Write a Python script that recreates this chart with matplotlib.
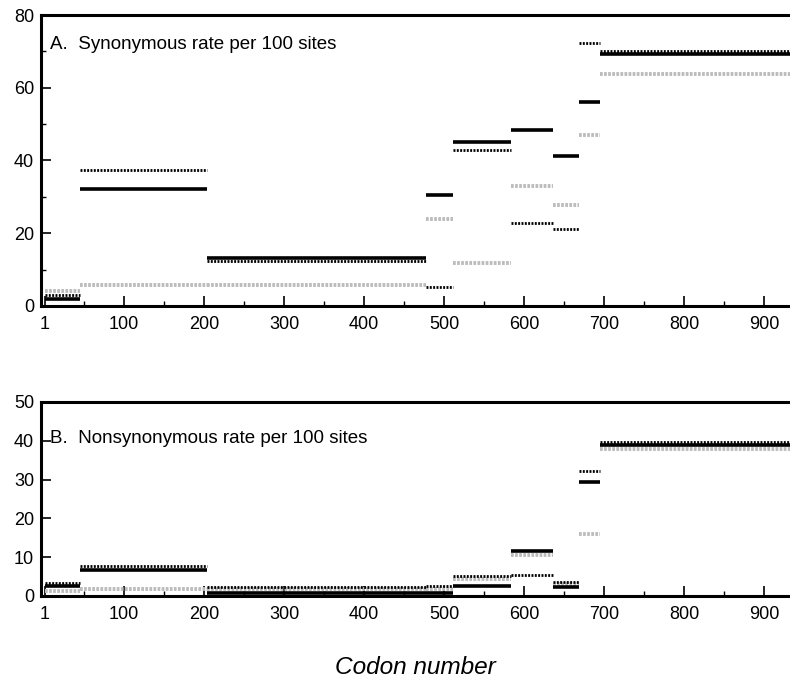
import matplotlib
matplotlib.use("Agg")
import matplotlib.pyplot as plt
from matplotlib.ticker import FixedLocator

plt.rcParams['font.family'] = ['Liberation Sans', 'DejaVu Sans']

# segment boundaries (codon numbers)
bounds = [1, 45, 204, 478, 511, 584, 636, 669, 695, 935]

# Panel A: synonymous rate per 100 sites
syn_solid = [1.8, 32.1, 13.3, 30.5, 45.0, 48.4, 41.3, 56.1, 69.2]
syn_dotted = [3.1, 37.4, 12.4, 5.3, 42.9, 22.9, 21.3, 72.3, 70.1]
syn_gray = [4.1, 5.8, 5.8, 24.0, 11.9, 33.0, 27.7, 47.1, 63.9]

# Panel B: nonsynonymous rate per 100 sites
non_solid = [2.5, 6.8, 0.7, 0.7, 2.5, 11.7, 2.3, 29.5, 38.8]
non_dotted = [3.3, 7.8, 2.3, 2.6, 5.2, 5.4, 3.6, 32.3, 39.7]
non_gray = [1.2, 1.8, 1.7, 1.9, 4.5, 10.5, 3.0, 16.0, 37.8]

xticks = [1, 100, 200, 300, 400, 500, 600, 700, 800, 900]
xminor = [50, 150, 250, 350, 450, 550, 650, 750, 850]

W, H = 790, 681
fig = plt.figure(figsize=(W / 100, H / 100), dpi=100)

def px_axes(left, top, right, bottom):
    return fig.add_axes([left / W, 1 - bottom / H, (right - left) / W, (bottom - top) / H])

axA = px_axes(41, 15, 790, 306)
axB = px_axes(41, 402, 790, 596)

starts = bounds[:-1]
ends = bounds[1:]

def draw(ax, solid, dotted, gray, ymax, yticks, yminor, label, label_y):
    ax.hlines(gray, starts, ends, colors='#bcbcbc', linewidth=2.8,
              linestyles=[(0, (0.7, 0.35))], zorder=2)
    ax.hlines(dotted, starts, ends, colors='black', linewidth=2.0,
              linestyles=[(0, (0.7, 0.5))], zorder=3)
    ax.hlines(solid, starts, ends, colors='black', linewidth=2.6, zorder=4)
    ax.set_xlim(-3.75, 932.5)
    ax.set_ylim(0, ymax)
    ax.xaxis.set_major_locator(FixedLocator(xticks))
    ax.xaxis.set_minor_locator(FixedLocator(xminor))
    ax.set_xticklabels([str(t) for t in xticks])
    ax.yaxis.set_major_locator(FixedLocator(yticks))
    if yminor:
        ax.yaxis.set_minor_locator(FixedLocator(yminor))
    ax.tick_params(which='major', direction='in', length=7, width=1.2,
                   labelsize=13)
    ax.tick_params(which='minor', direction='in', length=3.5, width=1.0)
    ax.tick_params(axis='x', which='major', pad=7)
    ax.tick_params(axis='y', which='major', pad=5)
    for s in ['left', 'bottom', 'top']:
        ax.spines[s].set_linewidth(2.2)
    ax.spines['right'].set_visible(False)
    ax.text(0.012, label_y, label, transform=ax.transAxes, fontsize=13.5, va='center')

draw(axA, syn_solid, syn_dotted, syn_gray, 80, [0, 20, 40, 60, 80], [10, 30, 50, 70],
     "A.  Synonymous rate per 100 sites", 0.90)
draw(axB, non_solid, non_dotted, non_gray, 50, [0, 10, 20, 30, 40, 50], None,
     "B.  Nonsynonymous rate per 100 sites", 0.81)

fig.text(415 / W, 1 - 667 / H, "Codon number", ha='center', va='center',
         fontsize=17.6, style='italic')

fig.savefig("out.png", dpi=100)
